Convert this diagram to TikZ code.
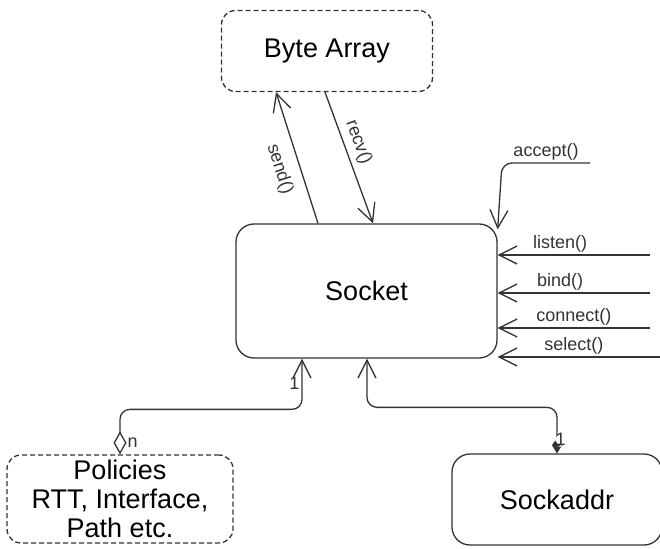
\documentclass[tikz,border=0pt]{standalone}
\usepackage{fontspec}
\setmainfont{Liberation Sans}
\usetikzlibrary{arrows.meta, positioning}
\definecolor{LineInk}{HTML}{333333}

\begin{document}
\begin{tikzpicture}[x=1pt, y=-1pt,
      box/.style={draw=LineInk, line width=1.3pt, rounded corners=18pt,
                  align=center, font=\fontsize{27}{29}\selectfont},
      dbox/.style={box, dash pattern=on 5pt off 3pt, rounded corners=14pt},
      lbl/.style={font=\fontsize{18}{20}\selectfont, text=LineInk, inner sep=2pt},
      arr/.style={-{Straight Barb[length=18pt, width=18pt, line width=1.3pt]},
                  line width=1.3pt, draw=LineInk},
      agg/.style={arr, {Diamond[open, length=23pt, width=13pt, line width=1.3pt]}-{Straight Barb[length=18pt, width=18pt, line width=1.3pt]},
                  rounded corners=10pt},
      comp/.style={arr, {Diamond[length=16pt, width=10pt]}-{Straight Barb[length=18pt, width=18pt, line width=1.3pt]},
                  rounded corners=10pt}]
    \useasboundingbox (0,0) rectangle (660,548);
    \node[dbox, minimum width=211pt, minimum height=81pt] (byte) at (327,51) {Byte Array};
    \node[box, minimum width=261pt, minimum height=134pt] (sock) at (366.5,291) {Socket};
    \node[dbox, minimum width=226pt, minimum height=88pt, inner sep=1pt] (pol) at (120,499) {Policies\\RTT, Interface,\\Path etc.};
    \node[box, minimum width=210pt, minimum height=91pt] (sad) at (557,499.5) {Sockaddr};
    % data in and out
    \draw[arr] ([xshift=-48.5pt]sock.north) -- node[lbl, sloped, below=9pt, pos=.46] (sendLbl) {send()} ([xshift=-51pt]byte.south);
    \draw[arr] ([xshift=-2pt]byte.south) -- node[lbl, sloped, above=3pt, pos=.42] (recvLbl) {recv()} ([xshift=6.5pt]sock.north);
    % calls on the socket
    \coordinate (acceptIn) at (590,163);
    \coordinate (acceptBend) at (502,163);
    \draw[arr, rounded corners=10pt] (acceptIn) -- node[lbl, above] (acceptLbl) {accept()} (acceptBend) -- ([yshift=-6pt]sock.north east);
    \coordinate (listenIn) at (650,255);
    \coordinate (bindIn) at (650,293);
    \coordinate (connectIn) at (650,328);
    \coordinate (selectIn) at (660,357);
    \draw[arr] (listenIn) -- node[lbl, above, pos=.59] (listenLbl) {listen()} (listenIn -| sock.east);
    \draw[arr] (bindIn) -- node[lbl, above, pos=.59] (bindLbl) {bind()} (bindIn -| sock.east);
    \draw[arr] (connectIn) -- node[lbl, above] (connectLbl) {connect()} (connectIn -| sock.east);
    \draw[arr] (selectIn) -- node[lbl, above, pos=.53] (selectLbl) {select()} (selectIn -| sock.east);
    % associations below
    \draw[agg] (pol.north) -- node[lbl, right=5pt, pos=.27] (nLbl) {n} ++(0,-45)
      -| node[lbl, left, pos=.76] (oneLbl) {1} ([xshift=-64.5pt]sock.south);
    \draw[comp] (sad.north) -- node[lbl, right=-3pt, pos=.3, fill=white, inner sep=1pt] (oneSadLbl) {1} ++(0,-46)
      -| ([xshift=0.5pt]sock.south);
  \end{tikzpicture}
\end{document}
